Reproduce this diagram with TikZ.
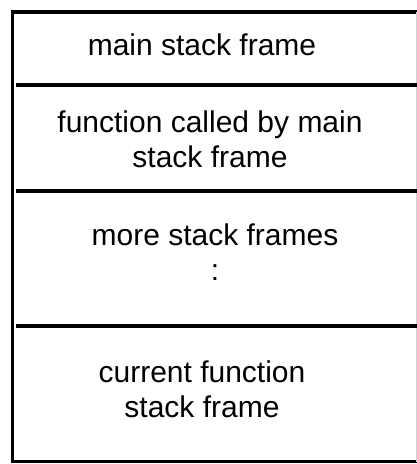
\documentclass[tikz,border=0pt]{standalone}
\usepackage{fontspec}
\setmainfont{Liberation Sans}
\begin{document}
\begin{tikzpicture}[x=1pt,y=-1pt,
  frametext/.style={align=center,anchor=base,inner sep=0pt,
    font=\fontsize{30}{35}\selectfont},
  border/.style={line width=3.6pt,line cap=rect},
  divider/.style={line width=4pt},
  edge/.style={line width=0.8pt,draw=black!18}]
\useasboundingbox (0,0) rectangle (417,464);

% outer frame of the stack
\coordinate (tr) at (417,12);
\coordinate (tl) at (12.5,12);
\coordinate (bl) at (12.5,461.5);
\coordinate (br) at (417,461.5);
\draw[border] (tr) -- (tl) -- (bl) -- (br);
\draw[edge] (416.4,12) -- (416.4,461.5);

% separators between the frames
\coordinate (d1l) at (16,85);    \coordinate (d1r) at (417,85);
\coordinate (d2l) at (16,190.5); \coordinate (d2r) at (417,190.5);
\coordinate (d3l) at (16,325.5); \coordinate (d3r) at (417,325.5);
\draw[divider] (d1l) -- (d1r);
\draw[divider] (d2l) -- (d2r);
\draw[divider] (d3l) -- (d3r);

% frame labels (base anchor sits on the last line's baseline)
\node[frametext] (mainframe) at (202,55) {main stack frame};
\node[frametext] (calledframe) at (210,167) {function called by main\\stack frame};
\node[frametext] (moreframes) at (215,280) {more stack frames\\:};
\node[frametext] (currentframe) at (202,417) {current function\\stack frame};
\end{tikzpicture}
\end{document}
